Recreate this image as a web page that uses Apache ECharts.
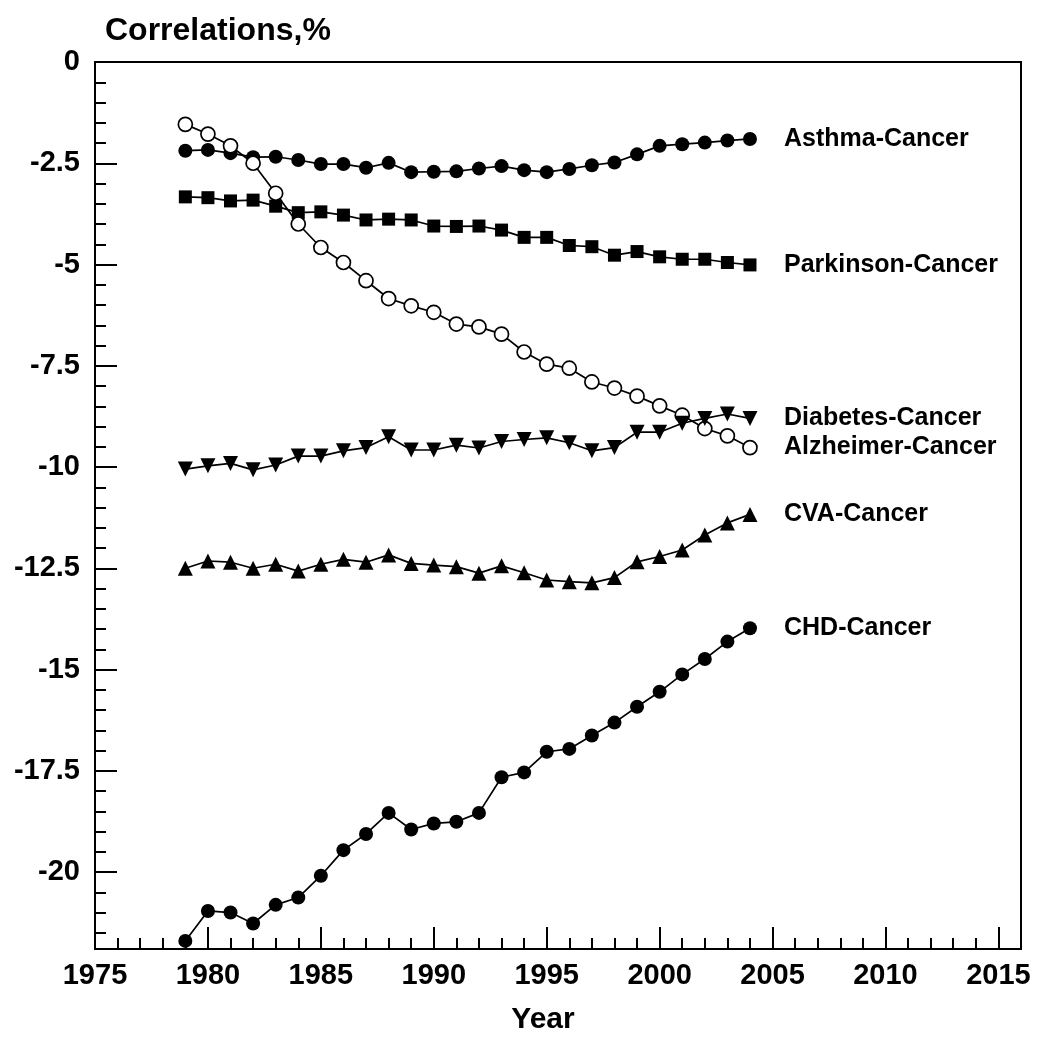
<!DOCTYPE html>
<html>
<head>
<meta charset="utf-8">
<script src="https://cdn.jsdelivr.net/npm/echarts@6.0.0/dist/echarts.min.js"></script>
<style>
    html, body { margin: 0; padding: 0; background: #fff; }
    #main { width: 1044px; height: 1050px; }
</style>
</head>
<body>
<div id="main"></div>
<script>
    var years = [1979, 1980, 1981, 1982, 1983, 1984, 1985, 1986, 1987, 1988, 1989, 1990, 1991,
                 1992, 1993, 1994, 1995, 1996, 1997, 1998, 1999, 2000, 2001, 2002, 2003, 2004];

    var asthma = [-2.19, -2.17, -2.25, -2.35, -2.34, -2.42, -2.52, -2.52, -2.61, -2.49, -2.72, -2.71, -2.70,
                  -2.63, -2.57, -2.67, -2.72, -2.64, -2.55, -2.48, -2.28, -2.07, -2.03, -1.99, -1.94, -1.90];
    var parkinson = [-3.33, -3.35, -3.43, -3.41, -3.56, -3.72, -3.70, -3.78, -3.90, -3.88, -3.90, -4.05, -4.06,
                     -4.05, -4.15, -4.33, -4.33, -4.53, -4.56, -4.77, -4.68, -4.81, -4.87, -4.87, -4.95, -5.01];
    var alzheimer = [-1.54, -1.78, -2.07, -2.50, -3.24, -4.00, -4.58, -4.95, -5.40, -5.84, -6.02, -6.18, -6.47,
                     -6.54, -6.72, -7.16, -7.46, -7.56, -7.90, -8.05, -8.25, -8.49, -8.72, -9.05, -9.23, -9.52];
    var diabetes = [-10.05, -9.97, -9.91, -10.07, -9.95, -9.73, -9.73, -9.60, -9.52, -9.25, -9.58, -9.58, -9.46,
                    -9.53, -9.37, -9.32, -9.28, -9.40, -9.60, -9.52, -9.14, -9.14, -8.92, -8.80, -8.69, -8.80];
    var cva = [-12.50, -12.32, -12.35, -12.50, -12.40, -12.57, -12.40, -12.28, -12.35, -12.17, -12.38, -12.42, -12.46,
               -12.62, -12.44, -12.61, -12.79, -12.83, -12.86, -12.73, -12.34, -12.21, -12.05, -11.68, -11.38, -11.17];
    var chd = [-21.70, -20.96, -21.00, -21.27, -20.81, -20.63, -20.09, -19.46, -19.06, -18.54, -18.95, -18.80, -18.76,
               -18.54, -17.66, -17.54, -17.03, -16.96, -16.63, -16.31, -15.92, -15.55, -15.12, -14.74, -14.31, -13.98];

    var xMajor = [1975, 1980, 1985, 1990, 1995, 2000, 2005, 2010, 2015];
    var yMajor = [0, -2.5, -5, -7.5, -10, -12.5, -15, -17.5, -20];
    var yMinor = [];
    for (var k = 0; k <= 43; k++) { yMinor.push(-k * 0.5); }

    var FONT = '"Liberation Sans", Arial, Helvetica, sans-serif';

    function pairs(vals) {
        return years.map(function (y, i) { return [y, vals[i]]; });
    }

    function line(name, vals, symbol, extra) {
        var s = {
            name: name,
            type: 'line',
            xAxisIndex: 0,
            yAxisIndex: 0,
            data: pairs(vals),
            symbol: symbol,
            symbolSize: 14,
            lineStyle: { color: '#000', width: 1.7 },
            itemStyle: { color: '#000' },
            endLabel: {
                show: true,
                formatter: name,
                distance: 34,
                color: '#000',
                fontFamily: FONT,
                fontWeight: 'bold',
                fontSize: 25
            },
            emphasis: { disabled: true },
            animation: false
        };
        for (var key in extra) { s[key] = extra[key]; }
        return s;
    }

    var myChart = echarts.init(document.getElementById('main'));
    var option = {
        backgroundColor: '#fff',
        title: {
            text: 'Correlations,%',
            left: 100,
            top: 10,
            textStyle: { fontFamily: FONT, fontWeight: 'bold', fontSize: 32, color: '#000' }
        },
        grid: {
            left: 95, right: 23, top: 62, bottom: 101,
            show: true, borderColor: '#000', borderWidth: 2, backgroundColor: 'transparent'
        },
        xAxis: [
            {
                type: 'value', min: 1975, max: 2016, position: 'bottom',
                name: 'Year', nameLocation: 'middle', nameGap: 56,
                nameTextStyle: { fontFamily: FONT, fontWeight: 'bold', fontSize: 30, color: '#000', padding: [0, 30, 0, 0] },
                axisLine: { show: true, onZero: false, lineStyle: { color: '#000', width: 2 } },
                axisTick: { show: true, inside: true, length: 22, customValues: xMajor, lineStyle: { color: '#000', width: 2 } },
                axisLabel: {
                    customValues: xMajor, margin: 12, color: '#000', fontFamily: FONT, fontWeight: 'bold', fontSize: 29,
                    formatter: function (v) { return String(v); }
                },
                splitLine: { show: false }
            },
            {
                type: 'value', min: 1975, max: 2016, interval: 1, position: 'bottom',
                axisLine: { show: false, onZero: false },
                axisTick: { show: true, inside: true, length: 11, lineStyle: { color: '#000', width: 2 } },
                axisLabel: { show: false },
                splitLine: { show: false }
            }
        ],
        yAxis: [
            {
                type: 'value', min: -21.9, max: 0, position: 'left',
                axisLine: { show: true, onZero: false, lineStyle: { color: '#000', width: 2 } },
                axisTick: { show: true, inside: true, length: 22, customValues: yMajor, lineStyle: { color: '#000', width: 2 } },
                axisLabel: {
                    customValues: yMajor, margin: 15, color: '#000', fontFamily: FONT, fontWeight: 'bold', fontSize: 29,
                    formatter: function (v) { return String(v); }
                },
                splitLine: { show: false }
            },
            {
                type: 'value', min: -21.9, max: 0, position: 'left',
                axisLine: { show: false, onZero: false },
                axisTick: { show: true, inside: true, length: 11, customValues: yMinor, lineStyle: { color: '#000', width: 2 } },
                axisLabel: { show: false },
                splitLine: { show: false }
            }
        ],
        series: [
            line('Asthma-Cancer', asthma, 'circle', {}),
            line('Parkinson-Cancer', parkinson, 'rect', { symbolSize: 13 }),
            line('Alzheimer-Cancer', alzheimer, 'circle', {
                itemStyle: { color: '#fff', borderColor: '#000', borderWidth: 1.7 }
            }),
            line('Diabetes-Cancer', diabetes, 'triangle', { symbolRotate: 180, symbolSize: 15 }),
            line('CVA-Cancer', cva, 'triangle', { symbolSize: 15 }),
            line('CHD-Cancer', chd, 'circle', {})
        ]
    };
    myChart.setOption(option);
</script>
</body>
</html>
